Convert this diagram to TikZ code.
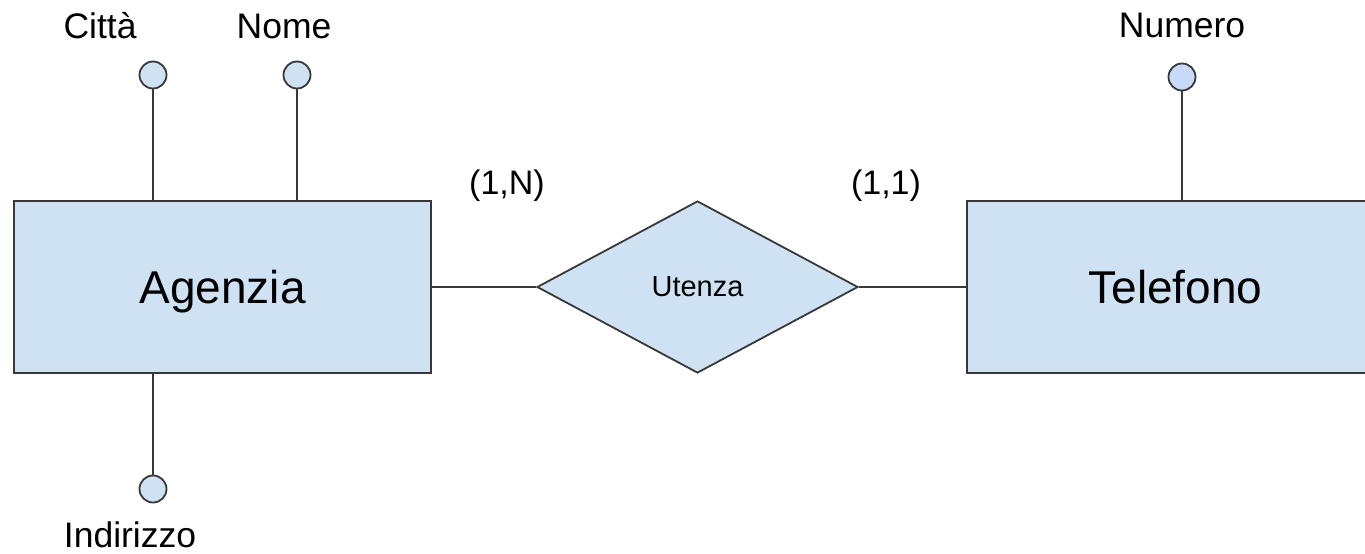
\documentclass[tikz,border=0pt]{standalone}
\usepackage{fontspec}
\setmainfont{Liberation Sans}
\usetikzlibrary{shapes.geometric}
\definecolor{boxfill}{HTML}{CFE2F3}
\definecolor{attrfill}{HTML}{CFE2F3}
\definecolor{attrfillb}{HTML}{C9DAF8}
\definecolor{edge}{HTML}{383838}
\tikzset{
  entity/.style={draw=edge, line width=2pt, fill=boxfill, rectangle, minimum width=417pt, minimum height=172pt, inner sep=0pt, text depth=0pt, font=\fontsize{46}{50}\selectfont},
  relation/.style={draw=edge, line width=1.8pt, fill=boxfill, diamond, aspect=1.866, minimum width=321pt, minimum height=172pt, inner sep=0pt, font=\fontsize{29}{33}\selectfont},
  attr/.style={draw=edge, line width=1.8pt, fill=attrfill, circle, minimum size=27pt, inner sep=0pt},
  lbl/.style={anchor=base, inner sep=0pt, font=\fontsize{35.5}{40}\selectfont},
  card/.style={anchor=base, inner sep=0pt, font=\fontsize{34}{38}\selectfont},
  conn/.style={draw=edge, line width=1.8pt}
}
\begin{document}
\begin{tikzpicture}[x=1pt,y=-1pt]
\useasboundingbox (0,0) rectangle (1365,554);
\begin{scope}
\clip (0,0) rectangle (1365,554);
\node[entity] (agenzia) at (222.5,287) {Agenzia};
\node[entity] (telefono) at (1175.5,287) {Telefono};
\end{scope}
\node[relation] (utenza) at (697.5,287) {Utenza};
\node[attr] (citta) at (153,75) {};
\node[attr] (nome) at (297,75) {};
\node[attr, fill=attrfillb] (numero) at (1182,77) {};
\node[attr] (indirizzo) at (153,489) {};
\draw[conn] (citta) -- (citta |- agenzia.north);
\draw[conn] (nome) -- (nome |- agenzia.north);
\draw[conn] (numero) -- (numero |- telefono.north);
\draw[conn] (indirizzo) -- (indirizzo |- agenzia.south);
\draw[conn] (agenzia) -- (utenza);
\draw[conn] (utenza) -- (telefono);
\node[lbl] (lcitta) at (100,38) {Città};
\node[lbl] (lnome) at (284,38) {Nome};
\node[lbl] (lnumero) at (1182,37) {Numero};
\node[lbl] (lindirizzo) at (130,547) {Indirizzo};
\node[card] (c1) at (507,194) {(1,N)};
\node[card] (c2) at (886,194) {(1,1)};
\end{tikzpicture}
\end{document}
